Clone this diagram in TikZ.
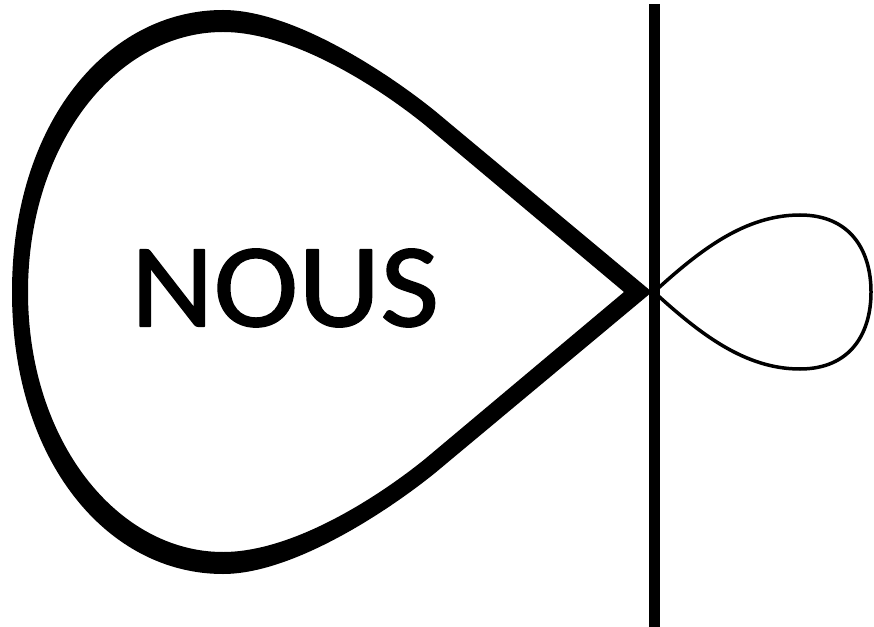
\documentclass[tikz,border=0pt]{standalone}
\usepackage{fontspec}
\setmainfont{Carlito}
\newfontfamily\nousfont[FakeBold=1.2]{Carlito}
\begin{document}
\begin{tikzpicture}[x=0.03cm,y=-0.03cm,line join=round]
  \useasboundingbox (0,0) rectangle (874,627);
  % big loop, filled between outer and inner edge
  \fill[black,even odd rule]
    (652,292) -- (435,111) .. controls (388,73) and (293,10) .. (223,10)
      .. controls (108,10) and (12,122) .. (12,292)
      .. controls (12,462) and (108,574) .. (223,574)
      .. controls (293,574) and (388,511) .. (435,473) -- cycle
    (624,292) -- (425,125) .. controls (378,87) and (293,32) .. (223,32)
      .. controls (118,32) and (28,142) .. (28,292)
      .. controls (28,442) and (118,552) .. (223,552)
      .. controls (293,552) and (378,497) .. (425,459) -- cycle;
  % small loop
  \coordinate (cross) at (654,292);
  \draw[line width=1.05mm] (cross) .. controls (700,250) and (745,215) .. (800,215)
      .. controls (850,215) and (871,250) .. (871,292)
      .. controls (871,334) and (850,369) .. (800,369)
      .. controls (745,369) and (700,334) .. (cross);
  % vertical bar
  \coordinate (bartop) at (654,4);
  \coordinate (barbot) at (654,627);
  \draw[line width=3.3mm] (bartop) -- (barbot);
  % label
  \node[font=\nousfont\fontsize{102}{102}\selectfont,inner sep=0pt,xscale=1.07] (nous) at (285,288) {NOUS};
\end{tikzpicture}
\end{document}
